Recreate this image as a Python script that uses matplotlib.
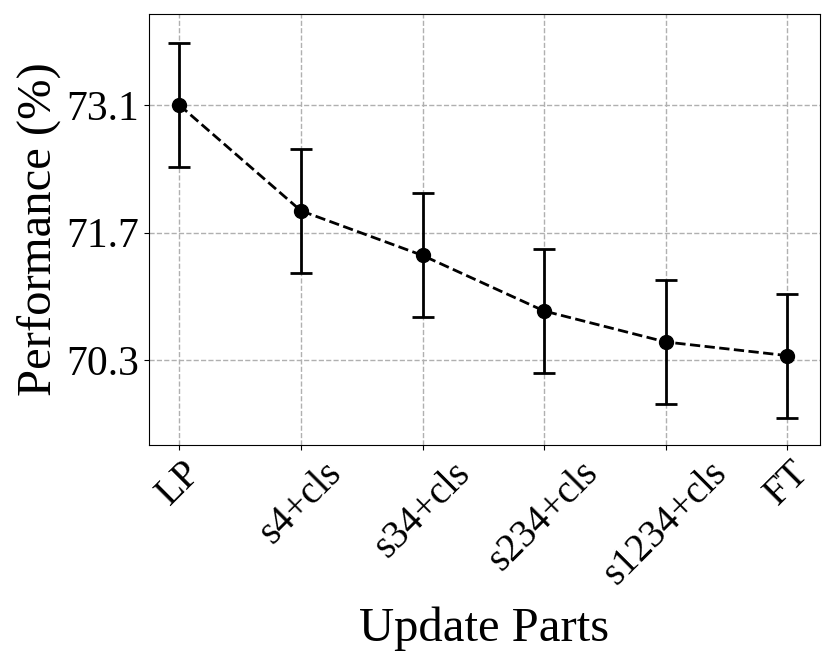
import numpy as np
import matplotlib.pyplot as plt

plt.rcParams['font.family'] = ['Liberation Serif', 'DejaVu Serif']

parts = ["LP", "s4+cls", "s34+cls", "s234+cls", "s1234+cls", "FT"]
perf = [73.10, 71.94, 71.45, 70.84, 70.50, 70.35]
err = [0.68, 0.68, 0.68, 0.68, 0.68, 0.68]
yticks = [70.3, 71.7, 73.1]

fig = plt.figure(figsize=(8.3, 6.67), dpi=100)
ax = fig.add_axes([0.1795, 0.333, 0.8085, 0.646])

x = np.arange(len(parts))
ax.errorbar(x, perf, yerr=err, fmt='o--', color='black', ecolor='black',
            markersize=10, linewidth=2, elinewidth=2, capsize=8, capthick=2)

ax.set_xticks(x)
ax.set_xticklabels(parts, rotation=45, fontsize=28)
ax.set_yticks(yticks)
ax.set_yticklabels([f"{v:.1f}" for v in yticks], fontsize=30)
ax.set_ylim(69.37, 74.1)
ax.set_xlim(-0.25, 5.27)
ax.grid(True, linestyle='--', color='#b0b0b0', linewidth=1)
ax.set_axisbelow(True)
ax.set_xlabel("Update Parts", fontsize=35, labelpad=10)
ax.set_ylabel("Performance (%)", fontsize=35, labelpad=4)

fig.savefig("out.png", dpi=100)
